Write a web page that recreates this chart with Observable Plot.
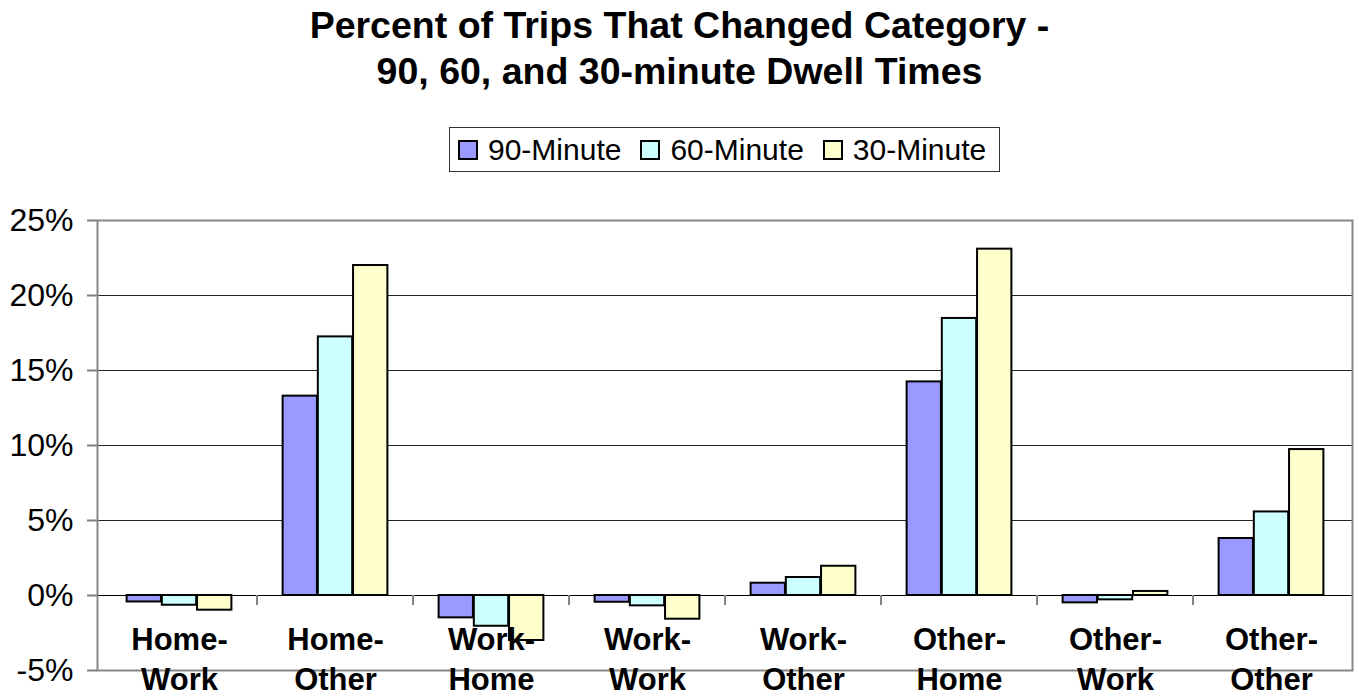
<!DOCTYPE html>
<html>
<head>
<meta charset="utf-8">
<script src="https://cdn.jsdelivr.net/npm/d3@7"></script>
<script src="https://cdn.jsdelivr.net/npm/@observablehq/plot@0.6"></script>
<style>
  html, body { margin: 0; padding: 0; background: #fff; overflow: hidden; }
  body { width: 1359px; height: 696px; position: relative; font-family: "Liberation Sans", Arial, sans-serif; color: #000; }
  #title { position: absolute; left: 0; top: 2px; width: 1359px; text-align: center; font-weight: bold; font-size: 37.5px; line-height: 46px; }
  #legend { position: absolute; left: 449px; top: 127px; width: 551px; height: 45px; box-sizing: border-box; border: 1px solid #333; display: flex; align-items: center; padding-left: 8px; white-space: nowrap; }
  .item { display: flex; align-items: center; margin-right: 19px; font-size: 30px; white-space: nowrap; flex: none; }
  .sw { width: 20px; height: 20px; box-sizing: border-box; border: 2px solid #000; margin-right: 10px; flex: none; }
  #chart { position: absolute; left: 0; top: 172px; }
</style>
</head>
<body>
<div id="title">Percent of Trips That Changed Category -<br>90, 60, and 30-minute Dwell Times</div>
<div id="legend"></div>
<div id="chart"></div>
<script>
// ---- data ----
const categories = ["Home-Work", "Home-Other", "Work-Home", "Work-Work", "Work-Other", "Other-Home", "Other-Work", "Other-Other"];
const seriesNames = ["90-Minute", "60-Minute", "30-Minute"];
const values90 = [-0.43, 13.29, -1.49, -0.45, 0.82, 14.24, -0.49, 3.80];
const values60 = [-0.65, 17.24, -2.05, -0.69, 1.20, 18.47, -0.29, 5.57];
const values30 = [-0.98, 22.00, -3.00, -1.58, 1.95, 23.09, 0.27, 9.73];
const yTicks = [-5, 0, 5, 10, 15, 20, 25];

// ---- styles ----
const palette = ["#9999FF", "#CCFFFF", "#FFFFCC"];
const seriesValues = [values90, values60, values30];

// legend
const legend = document.getElementById("legend");
seriesNames.forEach((name, j) => {
  const item = document.createElement("div");
  item.className = "item";
  const sw = document.createElement("div");
  sw.className = "sw";
  sw.style.background = palette[j];
  const t = document.createElement("span");
  t.textContent = name;
  item.appendChild(sw);
  item.appendChild(t);
  legend.appendChild(item);
});

const W = 1359, H = 524, mL = 97, mR = 7, mT = 48, mB = 26;
const step = (W - mL - mR) / categories.length;
const barW = step * 0.2245;
const outer = (step - 3 * barW) / 2;

const barMarks = seriesNames.map((name, j) =>
  Plot.barY(categories.map((c, i) => ({cat: c, series: name, v: seriesValues[j][i]})), {
    x: "cat", y1: 0, y2: "v", fill: "series",
    stroke: "#000", strokeWidth: 2,
    insetLeft: outer + j * barW, insetRight: step - outer - (j + 1) * barW
  })
);

const chart = Plot.plot({
  width: W, height: H,
  marginLeft: mL, marginRight: mR, marginTop: mT, marginBottom: mB,
  style: {fontFamily: "Liberation Sans, Arial, sans-serif", background: "white", overflow: "visible", color: "#000"},
  x: {type: "band", domain: categories, padding: 0, axis: null},
  y: {domain: [-5, 25]},
  color: {domain: seriesNames, range: palette},
  marks: [
    Plot.ruleY(yTicks.filter(d => d > 0 && d < 25), {stroke: "#222", strokeWidth: 1}),
    ...barMarks,
    Plot.ruleY([0], {stroke: "#000", strokeWidth: 1.2}),
    Plot.ruleX(categories.slice(1), {x: d => d, y1: 0, y2: -0.67, dx: -step / 2, stroke: "#808080", strokeWidth: 2}),
    Plot.frame({stroke: "#888", strokeWidth: 2}),
    Plot.axisY({ticks: yTicks, tickFormat: d => d + "%", label: null, tickSize: 10, tickPadding: 14, fontSize: 32, stroke: "#808080", fill: "#000", strokeWidth: 2}),
    Plot.text(categories, {x: d => d, y: 0, text: d => d.replace("-", "-\n"), lineAnchor: "top", dy: 27, lineHeight: 1.27, fontSize: 31, fontWeight: "bold", fill: "#000"})
  ]
});
document.getElementById("chart").appendChild(chart);
</script>
</body>
</html>
